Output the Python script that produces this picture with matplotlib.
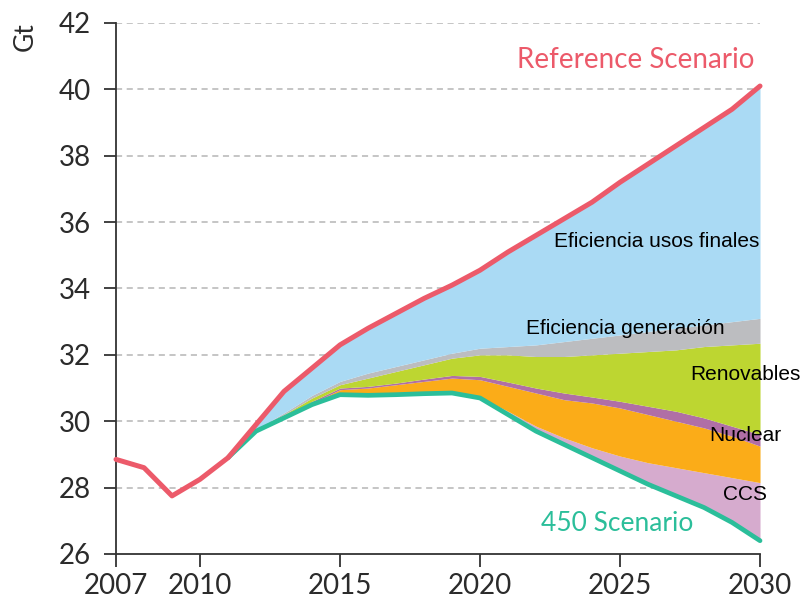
"""CO2 emissions: Reference vs 450 Scenario abatement wedges."""

import matplotlib

matplotlib.use("Agg")
import matplotlib.pyplot as plt

years = list(range(2007, 2031))
reference = [28.85, 28.6, 27.75, 28.25, 28.9, 29.9, 30.9, 31.6, 32.3, 32.8, 33.25, 33.7,
             34.1, 34.55, 35.1, 35.6, 36.1, 36.6, 37.2, 37.75, 38.3, 38.85, 39.4, 40.1]

# wedge boundaries from 2011 onwards (bottom to top)
wedge_years = list(range(2011, 2031))
scenario_450 = [28.9, 29.7, 30.1, 30.5, 30.8, 30.78, 30.8, 30.83, 30.85, 30.7,
                30.2, 29.7, 29.3, 28.9, 28.5, 28.1, 27.75, 27.4, 26.95, 26.4]
ccs_top = [28.9, 29.7, 30.1, 30.5, 30.8, 30.78, 30.8, 30.83, 30.85, 30.72,
           30.3, 29.85, 29.5, 29.2, 28.95, 28.75, 28.6, 28.45, 28.3, 28.15]
nuclear_top = [28.9, 29.7, 30.12, 30.55, 30.95, 31.0, 31.1, 31.2, 31.3, 31.25,
               31.05, 30.85, 30.65, 30.55, 30.4, 30.2, 30.0, 29.8, 29.55, 29.25]
biofuels_top = [28.9, 29.7, 30.14, 30.6, 31.0, 31.05, 31.15, 31.27, 31.38, 31.35,
                31.18, 31.0, 30.85, 30.73, 30.6, 30.45, 30.3, 30.1, 29.85, 29.6]
renewables_top = [28.9, 29.72, 30.2, 30.7, 31.1, 31.3, 31.5, 31.7, 31.9, 32.0,
                  32.0, 31.95, 31.95, 32.0, 32.05, 32.1, 32.15, 32.25, 32.3, 32.35]
generation_top = [28.9, 29.75, 30.25, 30.78, 31.2, 31.45, 31.65, 31.85, 32.05, 32.2,
                  32.25, 32.3, 32.4, 32.5, 32.6, 32.7, 32.8, 32.9, 33.0, 33.1]
reference_tail = reference[4:]

layers = [
    (scenario_450, ccs_top, "#D6ABCE"),
    (ccs_top, nuclear_top, "#FBAC18"),
    (nuclear_top, biofuels_top, "#B06FA6"),
    (biofuels_top, renewables_top, "#BDD631"),
    (renewables_top, generation_top, "#BCBDC0"),
    (generation_top, reference_tail, "#AADAF4"),
]

x_ticks = [2007, 2010, 2015, 2020, 2025, 2030]
y_ticks = [26, 28, 30, 32, 34, 36, 38, 40, 42]

tick_font = ["Lato", "DejaVu Sans"]

fig = plt.figure(figsize=(8.04, 6.03), dpi=100)
ax = fig.add_axes([0.1443, 0.0813, 0.801, 0.8806])

for lower, upper, color in layers:
    ax.fill_between(wedge_years, lower, upper, color=color, linewidth=0)

ax.plot(wedge_years, scenario_450, color="#2BBE9A", linewidth=3.4,
        solid_capstyle="round", clip_on=False, zorder=4)
ax.plot(years, reference, color="#EC5A6A", linewidth=3.6,
        solid_capstyle="round", clip_on=False, zorder=5)

ax.set_xlim(2007, 2030)
ax.set_ylim(26, 42)
ax.set_xticks(x_ticks)
ax.set_yticks(y_ticks)
for y in y_ticks[1:]:
    ax.axhline(y, color="#B5B5B5", linestyle=(0, (4, 3)), linewidth=1.1, zorder=0)

for side in ("top", "right"):
    ax.spines[side].set_visible(False)
for side in ("left", "bottom"):
    ax.spines[side].set_color("#333333")
    ax.spines[side].set_linewidth(1.3)
ax.tick_params(axis="both", direction="out", length=9, width=1.3, color="#333333",
               labelsize=20, labelcolor="#2B2B2B")
ax.tick_params(axis="y", pad=9)
ax.tick_params(axis="x", pad=5)
for label in ax.get_xticklabels() + ax.get_yticklabels():
    label.set_family(tick_font)

ax.text(-0.141, 0.974, "Gt", transform=ax.transAxes, rotation=90, fontsize=19,
        family=tick_font, color="#2B2B2B", ha="center", va="center")

ax.text(2025.57, 40.88, "Reference Scenario", color="#EC5A6A", fontsize=20,
        family=tick_font, ha="center", va="center")
ax.text(2024.9, 26.93, "450 Scenario", color="#2BBE9A", fontsize=19,
        family=tick_font, ha="center", va="center")

label_font = dict(family="Liberation Sans", fontsize=15, color="black", va="center")
ax.text(2026.3, 35.43, "Eficiencia usos finales", ha="center", **label_font)
ax.text(2025.2, 32.8, "Eficiencia generación", ha="center", **label_font)
ax.text(2027.5, 31.4, "Renovables", ha="left", **label_font)
ax.text(2028.18, 29.58, "Nuclear", ha="left", **label_font)
ax.text(2028.68, 27.8, "CCS", ha="left", **label_font)

fig.savefig("out.png", dpi=100)
